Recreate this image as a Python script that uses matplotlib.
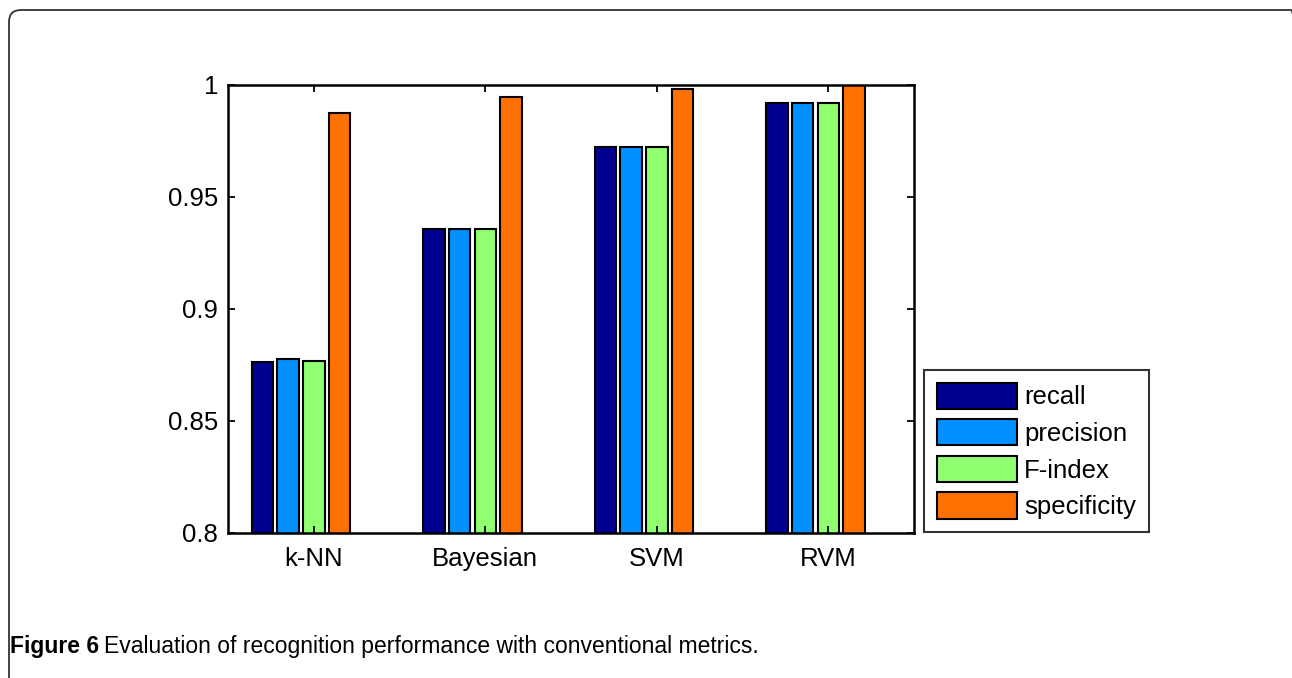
import matplotlib
matplotlib.use("Agg")
import matplotlib.pyplot as plt
import numpy as np
from matplotlib.patches import FancyBboxPatch
from matplotlib.transforms import IdentityTransform

methods = ["k-NN", "Bayesian", "SVM", "RVM"]
metrics = ["recall", "precision", "F-index", "specificity"]
recall = [0.8762, 0.9359, 0.9725, 0.9921]
precision = [0.8777, 0.9359, 0.9725, 0.9921]
findex = [0.8769, 0.9359, 0.9725, 0.9921]
specificity = [0.9876, 0.9945, 0.9982, 1.0]
colors = ["#000090", "#0090FF", "#90FF70", "#FF7000"]

plt.rcParams["font.family"] = ["Liberation Sans", "DejaVu Sans"]

fig = plt.figure(figsize=(12.92, 6.78), dpi=100)
ax = fig.add_axes([0.1765, 0.2139, 0.531, 0.6608])

# outer rounded frame of the page (pixel coords)
frame = FancyBboxPatch((9, -30), 1294, 698, boxstyle="round,pad=0,rounding_size=12",
                       transform=IdentityTransform(), fill=False, edgecolor="#333333",
                       linewidth=1.3)
fig.patches.append(frame)

x = np.arange(1, len(methods) + 1)
offsets = [-0.3, -0.15, 0.0, 0.15]
width = 0.125
series = [recall, precision, findex, specificity]
for i in range(4):
    ax.bar(x + offsets[i], series[i], width, color=colors[i], edgecolor="black",
           linewidth=1.5, label=metrics[i])

ax.set_xlim(0.5, 4.5)
ax.set_ylim(0.8, 1.0)
ax.set_xticks(x)
ax.set_xticklabels(methods)
ax.set_yticks([0.8, 0.85, 0.9, 0.95, 1.0])
ax.set_yticklabels(["0.8", "0.85", "0.9", "0.95", "1"])
ax.tick_params(direction="in", top=True, right=True, length=5, width=1.3,
               labelsize=18.5, color="black")
ax.tick_params(axis="x", pad=10)
ax.tick_params(axis="y", pad=7)
for s in ax.spines.values():
    s.set_linewidth(1.8)

leg = ax.legend(loc="lower left", bbox_to_anchor=(924 / 1292, 146 / 678),
                bbox_transform=fig.transFigure, fontsize=18.5, fancybox=False,
                edgecolor="black", handlelength=3.1, handleheight=1.2,
                labelspacing=0.38, handletextpad=0.3, borderpad=0.5,
                borderaxespad=0)
leg.get_frame().set_linewidth(1.5)

capfont = ["Liberation Sans Narrow", "Liberation Sans"]
cap_y = 1 - 647 / 678
cap = fig.text(10 / 1292, cap_y, "Figure 6", fontsize=16.5, fontweight="bold",
               va="center", ha="left", family=capfont)
fig.canvas.draw()
bb = cap.get_window_extent()
fig.text((bb.x1 + 5) / 1292, cap_y,
         "Evaluation of recognition performance with conventional metrics.",
         fontsize=16.5, va="center", ha="left", family=capfont)

fig.savefig("out.png", dpi=100)
